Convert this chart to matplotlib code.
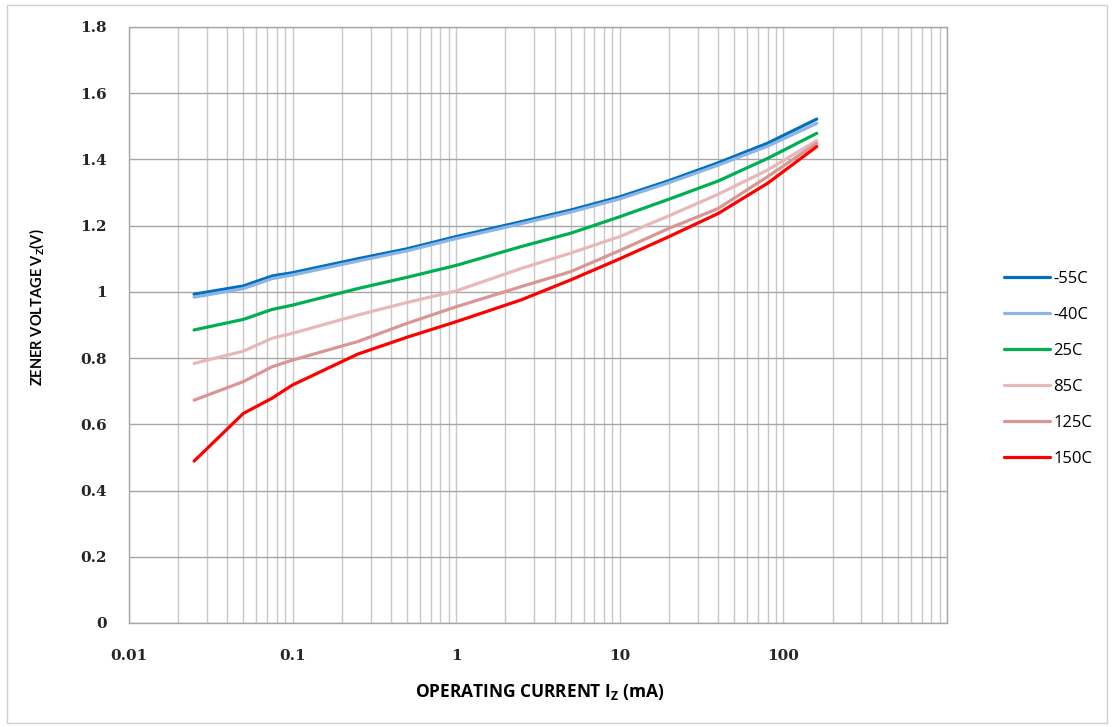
import numpy as np
import matplotlib
matplotlib.use("Agg")
import matplotlib.pyplot as plt
from matplotlib.ticker import FixedLocator, LogLocator, NullFormatter
from matplotlib.patches import Rectangle

# operating current (mA) and zener voltage (V)
current = [0.025, 0.05, 0.075, 0.1, 0.25, 0.5, 1, 2.5, 5, 10, 20, 40, 80, 160]
v_m55 = [0.993, 1.018, 1.048, 1.058, 1.100, 1.130, 1.167, 1.212, 1.247, 1.287, 1.336, 1.390, 1.449, 1.522]
v_m40 = [0.984, 1.010, 1.040, 1.051, 1.093, 1.124, 1.161, 1.206, 1.241, 1.281, 1.330, 1.383, 1.440, 1.509]
v_25 = [0.885, 0.917, 0.947, 0.960, 1.010, 1.044, 1.080, 1.137, 1.177, 1.227, 1.280, 1.335, 1.403, 1.479]
v_85 = [0.784, 0.821, 0.860, 0.875, 0.930, 0.968, 1.003, 1.071, 1.117, 1.167, 1.230, 1.295, 1.368, 1.457]
v_125 = [0.673, 0.729, 0.774, 0.794, 0.850, 0.905, 0.955, 1.016, 1.061, 1.125, 1.192, 1.252, 1.348, 1.449]
v_150 = [0.489, 0.633, 0.679, 0.719, 0.812, 0.863, 0.910, 0.976, 1.036, 1.100, 1.167, 1.237, 1.328, 1.439]

labels = ["-55C", "-40C", "25C", "85C", "125C", "150C"]
colors = ["#0070C0", "#8DB4E2", "#00B050", "#E6B9B8", "#D99694", "#FF0000"]
series = [v_m55, v_m40, v_25, v_85, v_125, v_150]

x_ticks = [0.01, 0.1, 1, 10, 100]
x_tick_labels = ["0.01", "0.1", "1", "10", "100"]
y_ticks = [0, 0.2, 0.4, 0.6, 0.8, 1.0, 1.2, 1.4, 1.6, 1.8]
y_tick_labels = ["0", "0.2", "0.4", "0.6", "0.8", "1", "1.2", "1.4", "1.6", "1.8"]

W, H = 1113, 727
fig = plt.figure(figsize=(W / 100, H / 100), dpi=100)
ax = fig.add_axes([129 / W, 1 - 623 / H, 818 / W, 596 / H])

# chart border
fig.patches.append(Rectangle((7 / W, 4 / H), 1100 / W, 718 / H, transform=fig.transFigure,
                             fill=False, edgecolor="#D0D0D0", lw=1.0))

for vals, lab, col in zip(series, labels, colors):
    ax.plot(current, vals, color=col, lw=2.3, label=lab, solid_capstyle="round")

ax.set_xscale("log")
ax.set_xlim(0.01, 1000)
ax.set_ylim(0, 1.8)

ax.xaxis.set_major_locator(FixedLocator(x_ticks + [1000]))
ax.set_xticklabels(x_tick_labels + [""])
ax.xaxis.set_minor_locator(LogLocator(base=10, subs=np.arange(2, 10), numticks=20))
ax.xaxis.set_minor_formatter(NullFormatter())
ax.set_yticks(y_ticks)
ax.set_yticklabels(y_tick_labels)

ax.grid(True, which="major", axis="y", color="#A6A6A6", lw=1.0)
ax.grid(True, which="both", axis="x", color="#C8C8C8", lw=1.0)
ax.set_axisbelow(True)
ax.tick_params(which="both", length=0)
ax.tick_params(axis="x", pad=19)
ax.tick_params(axis="y", pad=16)
for lab in ax.get_xticklabels() + ax.get_yticklabels():
    lab.set_fontfamily("DejaVu Serif")
    lab.set_fontweight("bold")
    lab.set_fontsize(11)
    lab.set_color("#262626")
for s in ax.spines.values():
    s.set_color("#A6A6A6")
    s.set_linewidth(1.0)

ax.set_xlabel(r"OPERATING CURRENT I$_\mathregular{Z}$ (mA)", fontfamily="Open Sans",
              fontweight="bold", fontsize=12.5, ha="center", va="center")
ax.set_ylabel(r"ZENER VOLTAGE V$_\mathregular{Z}$(V)", fontfamily="Lato",
              fontweight="bold", fontsize=10.5, ha="center", va="center")
ax.xaxis.set_label_coords((540 - 129) / 818, (623 - 692) / 596)
ax.yaxis.set_label_coords((37 - 129) / 818, (623 - 307) / 596)

ax.legend(loc="upper left", bbox_to_anchor=(989 / W, 1 - 256 / H), bbox_transform=fig.transFigure,
          frameon=False, handlelength=2.75, handletextpad=0.2, labelspacing=1.2,
          prop={"family": "Open Sans", "size": 12})

fig.savefig("out.png", dpi=100)
